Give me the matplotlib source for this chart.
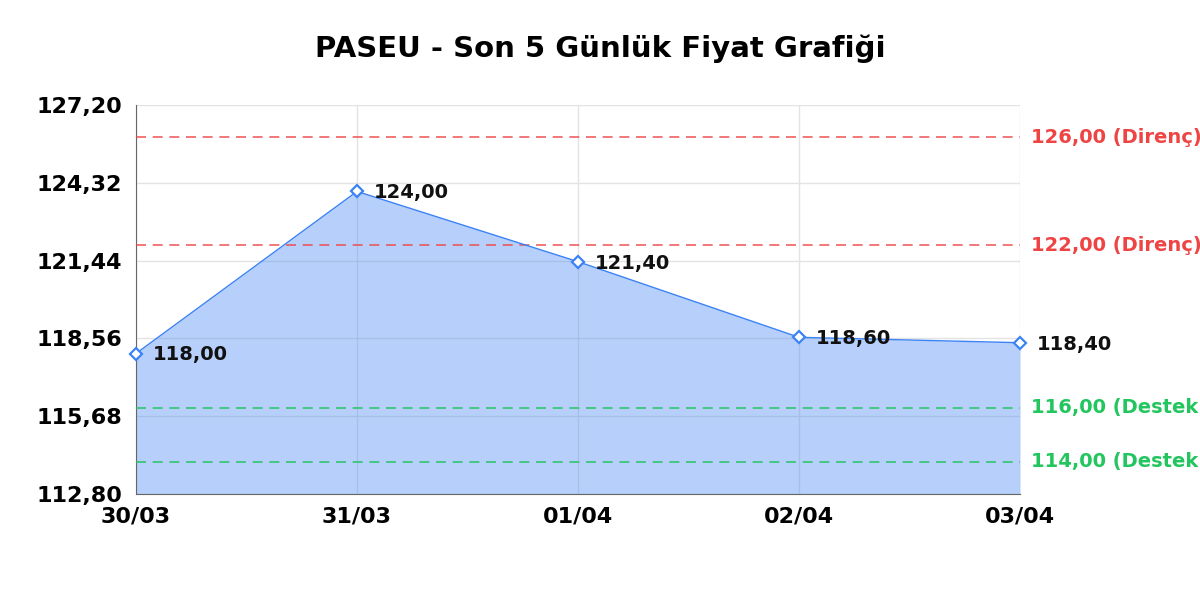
import matplotlib.pyplot as plt

plt.rcParams['font.family'] = ['DejaVu Sans']

# Price data (last 5 days)
dates = ['30/03', '31/03', '01/04', '02/04', '03/04']
prices = [118.00, 124.00, 121.40, 118.60, 118.40]

# Support / resistance levels
resistance = [126.00, 122.00]
support = [116.00, 114.00]

y_min, y_max = 112.80, 127.20
y_ticks = [112.80, 115.68, 118.56, 121.44, 124.32, 127.20]

LINE_BLUE = '#3b82f6'
RED = '#ef4444'
GREEN = '#22c55e'


def fmt(v):
    return f'{v:.2f}'.replace('.', ',')


fig = plt.figure(figsize=(12, 6), dpi=100)
ax = fig.add_axes([0.1133, 0.1767, 0.7367, 0.6483])

x = list(range(len(dates)))

ax.fill_between(x, prices, y_min, color=LINE_BLUE, alpha=0.37, linewidth=0, zorder=2)
ax.plot(x, prices, color=LINE_BLUE, linewidth=1, zorder=4)
ax.plot(x, prices, linestyle='none', marker='D', markersize=6.5,
        markerfacecolor='white', markeredgecolor=LINE_BLUE, markeredgewidth=1.6,
        zorder=5, clip_on=False)

for xi, p in zip(x, prices):
    ax.annotate(fmt(p), (xi, p), xytext=(12, -1), textcoords='offset points',
                va='center', ha='left', fontsize=14, fontweight='bold',
                color='#111111', zorder=6, annotation_clip=False)

for lvl in resistance:
    ax.axhline(lvl, color=RED, linestyle=(0, (6, 4)), linewidth=1.2, alpha=0.85, zorder=3)
    ax.text(1.013, lvl, f'{fmt(lvl)} (Direnç)', transform=ax.get_yaxis_transform(),
            color=RED, fontsize=14, fontweight='bold', va='center', ha='left')
for lvl in support:
    ax.axhline(lvl, color=GREEN, linestyle=(0, (6, 4)), linewidth=1.2, alpha=0.9, zorder=3)
    ax.text(1.013, lvl, f'{fmt(lvl)} (Destek)', transform=ax.get_yaxis_transform(),
            color=GREEN, fontsize=14, fontweight='bold', va='center', ha='left')

ax.set_xlim(0, len(dates) - 1)
ax.set_ylim(y_min, y_max)
ax.set_xticks(x)
ax.set_xticklabels(dates, fontsize=16, fontweight='bold')
ax.set_yticks(y_ticks)
ax.set_yticklabels([fmt(t) for t in y_ticks], fontsize=16, fontweight='bold')
ax.tick_params(length=0, pad=10)
ax.tick_params(axis='x', pad=9)

ax.grid(True, color='#e3e3e3', linewidth=1, zorder=0)
ax.set_axisbelow(True)
for side in ['top', 'right']:
    ax.spines[side].set_visible(False)
for side in ['left', 'bottom']:
    ax.spines[side].set_color('#666666')

fig.suptitle('PASEU - Son 5 Günlük Fiyat Grafiği', fontsize=21, fontweight='bold',
             y=0.918, va='center')

fig.savefig('out.png', dpi=100)
plt.close(fig)
